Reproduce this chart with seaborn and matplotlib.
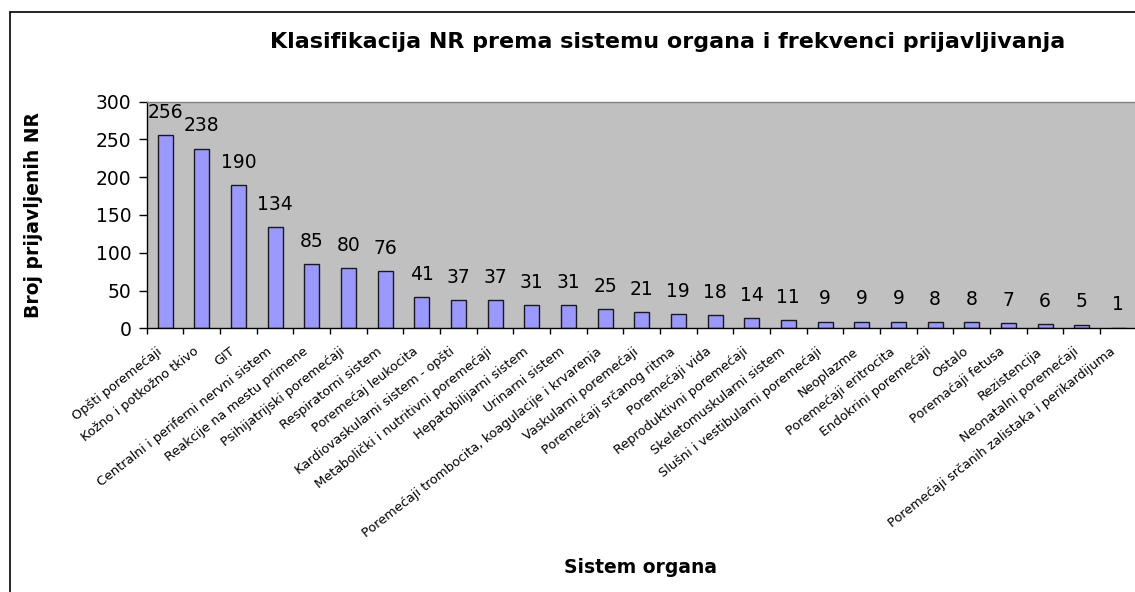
import matplotlib.pyplot as plt
import matplotlib.transforms as mtransforms
import numpy as np
import pandas as pd
import seaborn as sns
from matplotlib.lines import Line2D

# kategorije (sistem organa) i broj prijavljenih NR
categories = [
    "Opšti poremećaji",
    "Kožno i potkožno tkivo",
    "GIT",
    "Centralni i periferni nervni sistem",
    "Reakcije na mestu primene",
    "Psihijatrijski poremećaji",
    "Respiratorni sistem",
    "Poremećaj leukocita",
    "Kardiovaskularni sistem - opšti",
    "Metabolički i nutritivni poremećaji",
    "Hepatobilijarni sistem",
    "Urinarni sistem",
    "Poremećaji trombocita, koagulacije i krvarenja",
    "Vaskularni poremećaji",
    "Poremećaji srčanog ritma",
    "Poremećaji vida",
    "Reproduktivni poremećaji",
    "Skeletomuskularni sistem",
    "Slušni i vestibularni poremećaji",
    "Neoplazme",
    "Poremećaji eritrocita",
    "Endokrini poremećaji",
    "Ostalo",
    "Poremaćaji fetusa",
    "Rezistencija",
    "Neonatalni poremećaji",
    "Poremećaji srčanih zalistaka i perikardijuma",
]
counts = [256, 238, 190, 134, 85, 80, 76, 41, 37, 37, 31, 31, 25, 21,
          19, 18, 14, 11, 9, 9, 9, 8, 8, 7, 6, 5, 1]
y_ticks = [0, 50, 100, 150, 200, 250, 300]

TITLE = "Klasifikacija NR prema sistemu organa i frekvenci prijavljivanja"
XLABEL = "Sistem organa"
YLABEL = "Broj prijavljenih NR"

sns.set_style("white")
plt.rcParams["font.family"] = ["DejaVu Sans"]
plt.rcParams.update({"text.color": "black", "axes.labelcolor": "black",
                     "xtick.color": "black", "ytick.color": "black"})

df = pd.DataFrame({"sistem": categories, "broj": counts})

W, H = 1135, 592
fig = plt.figure(figsize=(W / 100, H / 100), dpi=100)
ax = fig.add_axes([146.7 / W, (H - 328.3) / H, 990 / W, 226.6 / H])
ax.set_facecolor("#C0C0C0")

sns.barplot(data=df, x="sistem", y="broj", ax=ax, color="#9999FF",
            saturation=1, edgecolor="#1a1a1a", linewidth=1.0, width=0.41)

# vrednosti iznad stubica
for i, v in enumerate(counts):
    ax.annotate(str(v), (i, v), xytext=(0, 9.5), textcoords="offset points",
                ha="center", va="bottom", fontsize=13.5)

ax.set_xlim(-0.5, len(categories) - 0.5)
ax.set_ylim(0, 300)
ax.set_yticks(y_ticks)
ax.tick_params(axis="y", direction="out", length=6, width=1,
               labelsize=13.5, pad=5, left=True)

ax.set_xticks(np.arange(-0.5, len(categories), 1), minor=True)
ax.tick_params(axis="x", which="minor", direction="out", length=4, width=1,
               bottom=True)
ax.tick_params(axis="x", which="major", length=0, pad=12)
ax.set_xticklabels(categories, rotation=38, ha="right", va="top",
                   rotation_mode="anchor", fontsize=9.3)
shift = mtransforms.ScaledTranslation(-9 / 100, 0, fig.dpi_scale_trans)
for lbl in ax.get_xticklabels():
    lbl.set_transform(lbl.get_transform() + shift)

ax.set_xlabel("")
ax.set_ylabel("")
for side in ["left", "bottom"]:
    ax.spines[side].set_color("black")
    ax.spines[side].set_linewidth(1)
ax.spines["top"].set_color("#808080")
ax.spines["top"].set_linewidth(1)
ax.spines["right"].set_visible(False)

fig.text(668 / W, 1 - 48.5 / H, TITLE, ha="center", va="baseline",
         fontsize=16, fontweight="bold")
fig.text(34 / W, 1 - 215.5 / H, YLABEL, ha="center", va="center",
         rotation=90, fontsize=13.5, fontweight="bold")
fig.text(641 / W, 1 - 573 / H, XLABEL, ha="center", va="baseline",
         fontsize=13.5, fontweight="bold")

# okvir grafikona (levo i gore)
fig.add_artist(Line2D([9.8 / W, 9.8 / W], [0, 1 - 12.3 / H], color="black",
                      linewidth=1.2, transform=fig.transFigure))
fig.add_artist(Line2D([9.8 / W, 1], [1 - 12.3 / H, 1 - 12.3 / H],
                      color="black", linewidth=1.2, transform=fig.transFigure))

fig.savefig("out.png", dpi=100)
